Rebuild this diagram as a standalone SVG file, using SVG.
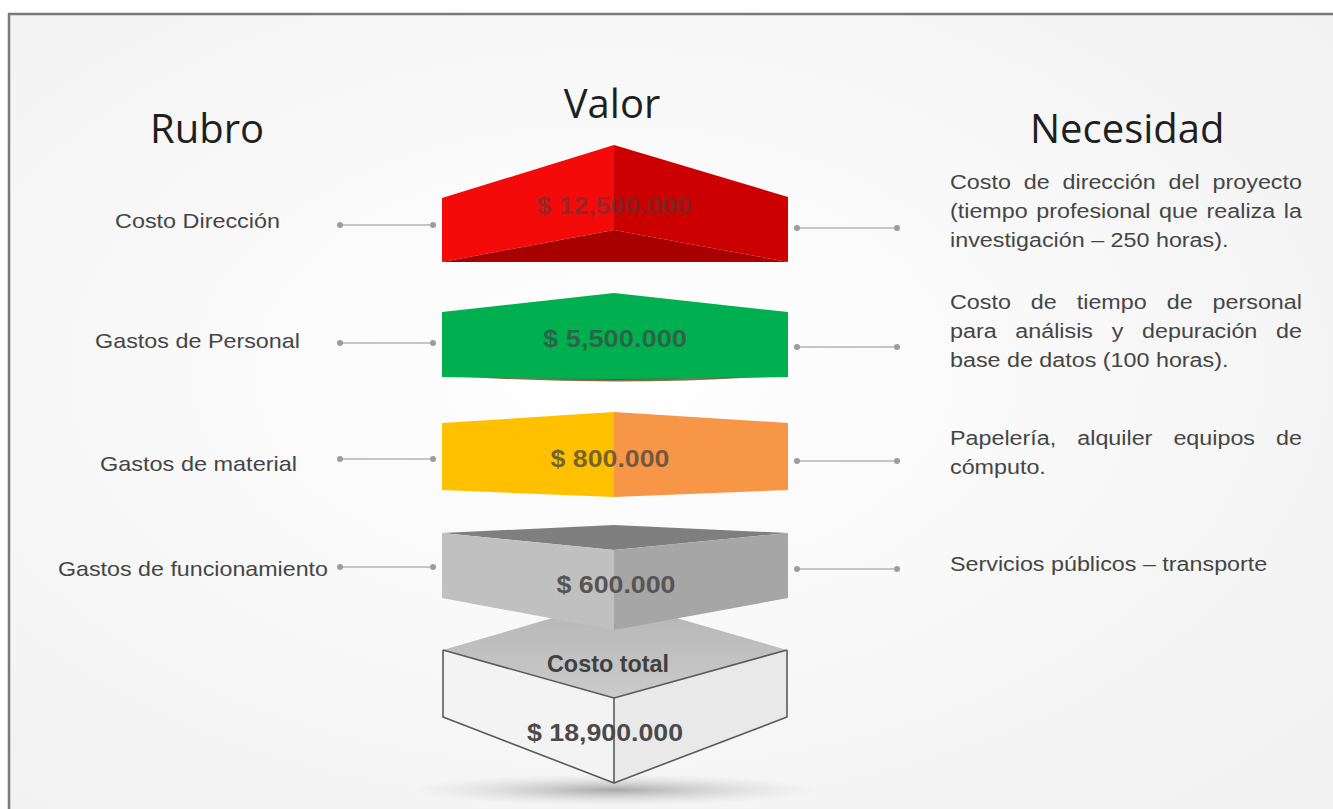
<svg xmlns="http://www.w3.org/2000/svg" width="1333" height="809" viewBox="0 0 1333 809">
<defs>
<radialGradient id="bg" cx="0.45" cy="0.45" r="0.75">
<stop offset="0" stop-color="#ffffff"/>
<stop offset="1" stop-color="#f1f1f1"/>
</radialGradient>
<radialGradient id="shadow" cx="0.5" cy="0.5" r="0.5">
<stop offset="0" stop-color="#8f8f8f" stop-opacity="0.75"/>
<stop offset="1" stop-color="#cfcfcf" stop-opacity="0"/>
</radialGradient>
<linearGradient id="topface" x1="0" y1="0" x2="0" y2="1">
<stop offset="0" stop-color="#b4b4b4"/>
<stop offset="1" stop-color="#cbcbcb"/>
</linearGradient>
<style>
.title{font-family:"Open Sans","Liberation Sans",sans-serif;font-size:40px;fill:#1f1f1f}
.lbl{font-family:"Liberation Sans",Arial,sans-serif;font-size:21px;fill:#454545}
.val{font-family:"Liberation Sans",Arial,sans-serif;font-size:24px;font-weight:bold;text-anchor:middle}
.conn line{stroke:#c6c6c6;stroke-width:2}
.conn circle{fill:#9c9c9c}
.edge{fill:none;stroke:#5a5a5a;stroke-width:1.6;stroke-linejoin:round}
</style>
</defs>
<rect width="1333" height="809" fill="#ffffff"/>
<rect x="9" y="14" width="1324" height="795" fill="url(#bg)"/>
<line x1="8" y1="14" x2="1333" y2="14" stroke="#7a7a7a" stroke-width="2.5"/>
<line x1="9" y1="13" x2="9" y2="809" stroke="#7a7a7a" stroke-width="2.5"/>

<g id="titles">
<text class="title" x="150" y="143">Rubro</text>
<text class="title" x="612" y="118" text-anchor="middle">Valor</text>
<text class="title" x="1030" y="143">Necesidad</text>
</g>

<g id="connectors" class="conn">
<line x1="340" y1="225" x2="433" y2="225"/><circle cx="340" cy="225" r="3"/><circle cx="433" cy="225" r="3"/>
<line x1="797" y1="228" x2="897" y2="228"/><circle cx="797" cy="228" r="3"/><circle cx="897" cy="228" r="3"/>
<line x1="340" y1="343" x2="433" y2="343"/><circle cx="340" cy="343" r="3"/><circle cx="433" cy="343" r="3"/>
<line x1="797" y1="347" x2="897" y2="347"/><circle cx="797" cy="347" r="3"/><circle cx="897" cy="347" r="3"/>
<line x1="340" y1="459" x2="433" y2="459"/><circle cx="340" cy="459" r="3"/><circle cx="433" cy="459" r="3"/>
<line x1="797" y1="461" x2="897" y2="461"/><circle cx="797" cy="461" r="3"/><circle cx="897" cy="461" r="3"/>
<line x1="340" y1="567" x2="433" y2="567"/><circle cx="340" cy="567" r="3"/><circle cx="433" cy="567" r="3"/>
<line x1="797" y1="569" x2="897" y2="569"/><circle cx="797" cy="569" r="3"/><circle cx="897" cy="569" r="3"/>
</g>

<g id="rubros">
<text class="lbl" x="115" y="228" textLength="165" lengthAdjust="spacingAndGlyphs">Costo Dirección</text>
<text class="lbl" x="95" y="348" textLength="205" lengthAdjust="spacingAndGlyphs">Gastos de Personal</text>
<text class="lbl" x="100" y="471" textLength="197" lengthAdjust="spacingAndGlyphs">Gastos de material</text>
<text class="lbl" x="58" y="576" textLength="270" lengthAdjust="spacingAndGlyphs">Gastos de funcionamiento</text>
</g>

<g id="total">
<ellipse cx="614" cy="790" rx="210" ry="16" fill="url(#shadow)"/>
<polygon points="443,650 614,600 787,650 614,698" fill="url(#topface)"/>
<polygon points="443,650 614,698 614,783 443,717" fill="#f3f3f3"/>
<polygon points="614,698 787,650 787,717 614,783" fill="#e9e9e9"/>
<polyline class="edge" points="443,650 614,698 787,650"/>
<polyline class="edge" points="443,650 443,717 614,783 787,717 787,650"/>
<line class="edge" x1="614" y1="698" x2="614" y2="783"/>
<text class="val" x="608" y="672" fill="#404040" font-size="21" textLength="122" lengthAdjust="spacingAndGlyphs">Costo total</text>
<text class="val" x="605" y="741" fill="#4a4a4a" textLength="156" lengthAdjust="spacingAndGlyphs">$ 18,900.000</text>
</g>

<g id="funcionamiento">
<polygon points="442,533 614,525 788,533 614,550" fill="#7f7f7f"/>
<polygon points="442,533 614,550 614,630 442,598" fill="#c0c0c0"/>
<polygon points="614,550 788,533 788,598 614,630" fill="#a6a6a6"/>
<text class="val" x="616" y="593" fill="#555555" textLength="119" lengthAdjust="spacingAndGlyphs">$ 600.000</text>
</g>

<g id="material">
<polygon points="442,423 614,412 614,497 442,490" fill="#ffc000"/>
<polygon points="614,412 788,423 788,490 614,497" fill="#f79646"/>
<text class="val" x="610" y="467" fill="#404040" fill-opacity="0.72" textLength="119" lengthAdjust="spacingAndGlyphs">$ 800.000</text>
</g>

<g id="personal">
<polygon points="442,312 614,293 788,312 788,377 614,380 442,377" fill="#00b050"/>
<path d="M470,377 Q614,386 760,377 Q614,381 470,377 Z" fill="#6b4a1e" fill-opacity="0.8"/>
<text class="val" x="615" y="347" fill="#404040" fill-opacity="0.68" textLength="144" lengthAdjust="spacingAndGlyphs">$ 5,500.000</text>
</g>

<g id="direccion">
<polygon points="442,198 614,145 614,230 442,262" fill="#f50a0a"/>
<polygon points="614,145 788,197 788,262 614,230" fill="#cc0000"/>
<polygon points="442,262 614,230 788,262" fill="#a80000"/>
<text class="val" x="614" y="214" fill="#404040" fill-opacity="0.55" textLength="155" lengthAdjust="spacingAndGlyphs">$ 12,500.000</text>
</g>

<g id="necesidades" class="lbl" transform="translate(950,0) scale(1.11,1)">
<text y="189"><tspan x="0">Costo </tspan><tspan x="66.43">de </tspan><tspan x="101.36">dirección </tspan><tspan x="196.96">del </tspan><tspan x="236.55">proyecto</tspan></text>
<text y="218"><tspan x="0">(tiempo </tspan><tspan x="77.8">profesional </tspan><tspan x="188.3">que </tspan><tspan x="231.12">realiza </tspan><tspan x="300.76">la</tspan></text>
<text x="0" y="247">investigación – 250 horas).</text>
<text y="309"><tspan x="0">Costo </tspan><tspan x="72.85">de </tspan><tspan x="114.2">tiempo </tspan><tspan x="195.22">de </tspan><tspan x="236.57">personal</tspan></text>
<text y="338"><tspan x="0">para </tspan><tspan x="58.85">análisis </tspan><tspan x="145.69">y </tspan><tspan x="173.02">depuración </tspan><tspan x="293.74">de</tspan></text>
<text x="0" y="367">base de datos (100 horas).</text>
<text y="445"><tspan x="0">Papelería, </tspan><tspan x="114.66">alquiler </tspan><tspan x="201.28">equipos </tspan><tspan x="293.76">de</tspan></text>
<text x="0" y="474">cómputo.</text>
<text x="0" y="571">Servicios públicos – transporte</text>
</g>
</svg>
